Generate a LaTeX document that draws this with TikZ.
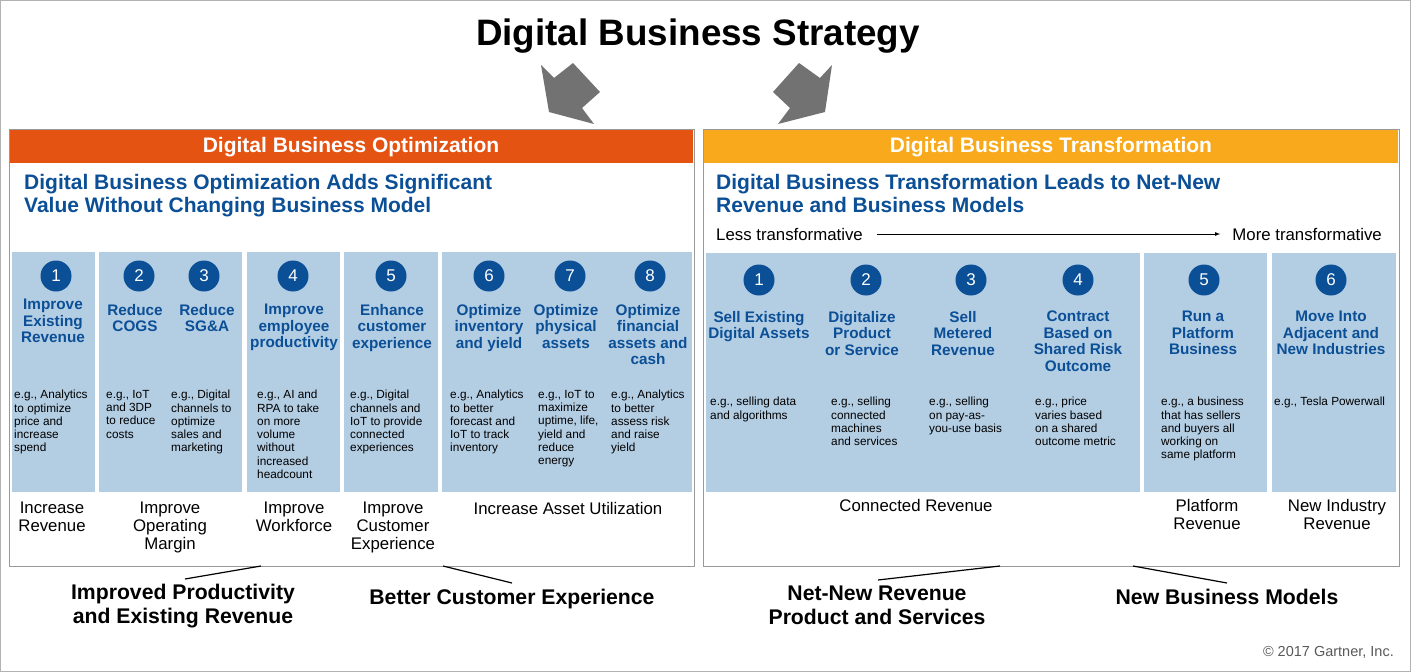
\documentclass[tikz,border=0pt]{standalone}
\usepackage{fontspec}
\setmainfont{Liberation Sans}
\begin{document}
\begin{tikzpicture}[x=1pt,y=-1pt,
 col/.style={fill=colb,draw=none},
 num/.style={circle,fill=numb,text=white,minimum size=31pt,inner sep=0pt,font=\fontsize{17}{17}\selectfont},
 hd/.style={text=numb,font=\bfseries\fontsize{15.3}{16.5}\selectfont,align=center,anchor=north,inner sep=0pt},
 ex/.style={font=\fontsize{11.8}{13.3}\selectfont,align=left,anchor=north west,inner sep=0pt},
 bl/.style={font=\fontsize{16.8}{17.8}\selectfont,align=center,anchor=north,inner sep=0pt},
 bb/.style={font=\bfseries\fontsize{21.2}{23.5}\selectfont,align=center,anchor=north,inner sep=0pt},
 sub/.style={text=numb,font=\bfseries\fontsize{21}{23}\selectfont,align=left,anchor=north west,inner sep=0pt},
 ln/.style={line width=1.2pt},
 arr/.style={fill=gray!70!black!85,draw=none}]
\definecolor{colb}{HTML}{B3CDE3}
\definecolor{numb}{HTML}{0B4F96}
\definecolor{org}{HTML}{E55312}
\definecolor{yel}{HTML}{F8A91C}
\useasboundingbox (0,0) rectangle (1411,672);
\draw[gray!60] (0.5,0.5) rectangle (1410.5,671.5);
\node[font=\bfseries\fontsize{36.8}{36.8}\selectfont,inner sep=0pt] (title) at (698,36) {Digital Business Strategy};
% arrows
\fill[arr] (541,65)--(554,78)--(573,63)--(600,92)--(582,108)--(594,124)--(549,112)--cycle;
\fill[arr] (832,65)--(820,78)--(799,63)--(773,92)--(790,108)--(778,124)--(825,112)--cycle;
% frames
\draw[gray!80,line width=1pt,fill=white] (9,129) rectangle (694,566);
\draw[gray!80,line width=1pt,fill=white] (703,129) rectangle (1399,566);
\fill[org] (10,130) rectangle (693,163);
\fill[yel] (704,130) rectangle (1398,163);
\node[text=white,font=\bfseries\fontsize{21}{21}\selectfont] (h1) at (351,147) {Digital Business Optimization};
\node[text=white,font=\bfseries\fontsize{21}{21}\selectfont] (h2) at (1051,147) {Digital Business Transformation};
\node[sub] (s1) at (24,174) {Digital Business Optimization Adds Significant\\Value Without Changing Business Model};
\node[sub] (s2) at (716,174) {Digital Business Transformation Leads to Net-New\\Revenue and Business Models};
\node[font=\fontsize{16.8}{16.8}\selectfont,anchor=west,inner sep=0pt] (lt) at (716,234) {Less transformative};
\node[font=\fontsize{16.8}{16.8}\selectfont,anchor=east,inner sep=0pt] (mt) at (1382,234) {More transformative};
\draw[-latex,line width=0.8pt] (lt.east)++(14,0) -- ([xshift=-12pt]mt.west);
% left columns
\fill[col] (12,252) rectangle (95,492);
\fill[col] (99,252) rectangle (242,492);
\fill[col] (247,252) rectangle (340,492);
\fill[col] (344,252) rectangle (438,492);
\fill[col] (442,252) rectangle (692,492);
\foreach \x/\n in {56/1,139/2,204/3,293/4,391/5,489/6,570/7,650/8}{\node[num] (l\n) at (\x,276) {\n};}
\node[hd] at (53,299) {Improve\\Existing\\Revenue};
\node[hd] at (135,304) {Reduce\\COGS};
\node[hd] at (207,304) {Reduce\\SG\&A};
\node[hd] at (294,304) {Improve\\employee\\productivity};
\node[hd] at (392,304) {Enhance\\customer\\experience};
\node[hd] at (489,304) {Optimize\\inventory\\and yield};
\node[hd] at (566,304) {Optimize\\physical\\assets};
\node[hd] at (648,304) {Optimize\\financial\\assets and\\cash};
\node[ex] at (14,390) {e.g., Analytics\\to optimize\\price and\\increase\\spend};
\node[ex] at (106,390) {e.g., IoT\\and 3DP\\to reduce\\costs};
\node[ex] at (171,390) {e.g., Digital\\channels to\\optimize\\sales and\\marketing};
\node[ex] at (257,390) {e.g., AI and\\RPA to take\\on more\\volume\\without\\increased\\headcount};
\node[ex] at (350,390) {e.g., Digital\\channels and\\IoT to provide\\connected\\experiences};
\node[ex] at (450,390) {e.g., Analytics\\to better\\forecast and\\IoT to track\\inventory};
\node[ex] at (538,390) {e.g., IoT to\\maximize\\uptime, life,\\yield and\\reduce\\energy};
\node[ex] at (611,390) {e.g., Analytics\\to better\\assess risk\\and raise\\yield};
\node[bl] at (52,502) {Increase\\Revenue};
\node[bl] at (170,502) {Improve\\Operating\\Margin};
\node[bl] at (294,502) {Improve\\Workforce};
\node[bl] at (393,502) {Improve\\Customer\\Experience};
\node[bl] at (568,502) {Increase Asset Utilization};
% right columns
\fill[col] (706,253) rectangle (1140,492);
\fill[col] (1144,253) rectangle (1267,492);
\fill[col] (1272,253) rectangle (1396,492);
\foreach \x/\n in {759/1,866/2,971/3,1078/4,1204/5,1331/6}{\node[num] (r\n) at (\x,280) {\n};}
\node[hd] at (759,311) {Sell Existing\\Digital Assets};
\node[hd] at (862,311) {Digitalize\\Product\\or Service};
\node[hd] at (963,311) {Sell\\Metered\\Revenue};
\node[hd] at (1078,311) {Contract\\Based on\\Shared Risk\\Outcome};
\node[hd] at (1203,311) {Run a\\Platform\\Business};
\node[hd] at (1331,311) {Move Into\\Adjacent and\\New Industries};
\node[ex] at (710,397) {e.g., selling data\\and algorithms};
\node[ex] at (831,397) {e.g., selling\\connected\\machines\\and services};
\node[ex] at (929,397) {e.g., selling\\on pay-as-\\you-use basis};
\node[ex] at (1035,397) {e.g., price\\varies based\\on a shared\\outcome metric};
\node[ex] at (1161,397) {e.g., a business\\that has sellers\\and buyers all\\working on\\same platform};
\node[ex] at (1274,397) {e.g., Tesla Powerwall};
\node[bl] at (916,499) {Connected Revenue};
\node[bl] at (1207,499) {Platform\\Revenue};
\node[bl] at (1337,499) {New Industry\\Revenue};
% bottom
\node[bb] (b1) at (183,584) {Improved Productivity\\and Existing Revenue};
\node[bb] (b2) at (512,589) {Better Customer Experience};
\node[bb] (b3) at (877,586) {Net-New Revenue\\Product and Services};
\node[bb] (b4) at (1227,589) {New Business Models};
\coordinate (c1) at (261,566); \coordinate (d1) at (185,579);
\coordinate (c2) at (443,566); \coordinate (d2) at (512,583);
\coordinate (c3) at (1000,566); \coordinate (d3) at (878,580);
\coordinate (c4) at (1133,566); \coordinate (d4) at (1227,583);
\draw[ln] (c1) -- (d1);
\draw[ln] (c2) -- (d2);
\draw[ln] (c3) -- (d3);
\draw[ln] (c4) -- (d4);
\node[text=gray!70!black,font=\fontsize{14.5}{14.5}\selectfont,anchor=east,inner sep=0pt] at (1394,652) {© 2017 Gartner, Inc.};
\end{tikzpicture}
\end{document}
